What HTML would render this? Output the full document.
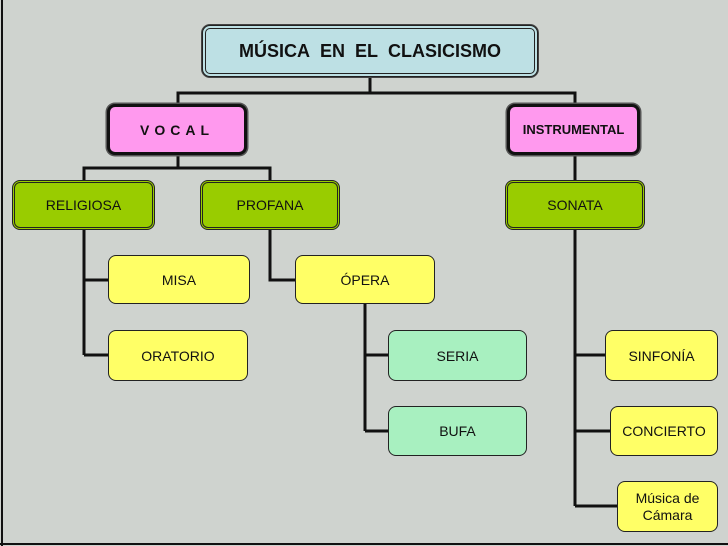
<!DOCTYPE html>
<html><head><meta charset="utf-8"><style>
html,body{margin:0;padding:0}
body{width:728px;height:546px;background:#cfd3cf;position:relative;overflow:hidden;font-family:"Liberation Sans",sans-serif}
.b{position:absolute;box-sizing:border-box;border-radius:8px;display:flex;align-items:center;justify-content:center;text-align:center;color:#111;font-size:14px;border:1.5px solid #222}
.y{background:#ffff66}
.g{background:#99cc00;border:3px double #222}
.m{background:#a8f0c0}
.p{background:#ff99ee;border:3px solid #111;box-shadow:0 0 0 1.5px #555;font-weight:bold}
.t{background:#bde0e4;border:4px double #222;box-shadow:0 0 0 1px #444;font-weight:bold;font-size:18px}
svg{position:absolute;left:0;top:0}
</style></head><body>
<svg width="728" height="546">
<g stroke="#111" stroke-width="3" fill="none">
<line x1="2" y1="0" x2="2" y2="546" stroke-width="2"/>
<line x1="0" y1="544" x2="728" y2="544" stroke-width="2"/>
<path d="M370 77V93M178 104V93H575V104"/>
<path d="M178 155V168M84 180V168H270V180"/>
<path d="M575 155V180"/>
<path d="M84 230V355M84 280H108M84 355H108"/>
<path d="M270 230V280H295"/>
<path d="M365 304V431M365 355H388M365 431H388"/>
<path d="M575 230V506M575 355H605M575 431H610M575 506H617"/>
</g></svg>
<div class="b t" style="left:202px;top:25px;width:336px;height:52px">MÚSICA&nbsp; EN&nbsp; EL&nbsp; CLASICISMO</div>
<div class="b p" style="left:107px;top:104px;width:140px;height:51px;letter-spacing:5px">VOCAL</div>
<div class="b p" style="left:507px;top:104px;width:133px;height:51px;font-size:13px">INSTRUMENTAL</div>
<div class="b g" style="left:12px;top:180px;width:143px;height:50px">RELIGIOSA</div>
<div class="b g" style="left:200px;top:180px;width:140px;height:50px">PROFANA</div>
<div class="b g" style="left:505px;top:180px;width:140px;height:50px">SONATA</div>
<div class="b y" style="left:108px;top:255px;width:142px;height:49px">MISA</div>
<div class="b y" style="left:295px;top:255px;width:140px;height:49px">ÓPERA</div>
<div class="b y" style="left:108px;top:330px;width:140px;height:51px">ORATORIO</div>
<div class="b m" style="left:388px;top:330px;width:139px;height:51px">SERIA</div>
<div class="b m" style="left:388px;top:406px;width:139px;height:50px">BUFA</div>
<div class="b y" style="left:605px;top:330px;width:113px;height:51px">SINFONÍA</div>
<div class="b y" style="left:610px;top:406px;width:108px;height:50px">CONCIERTO</div>
<div class="b y" style="left:617px;top:481px;width:101px;height:51px;line-height:17px">Música de<br>Cámara</div>
</body></html>
